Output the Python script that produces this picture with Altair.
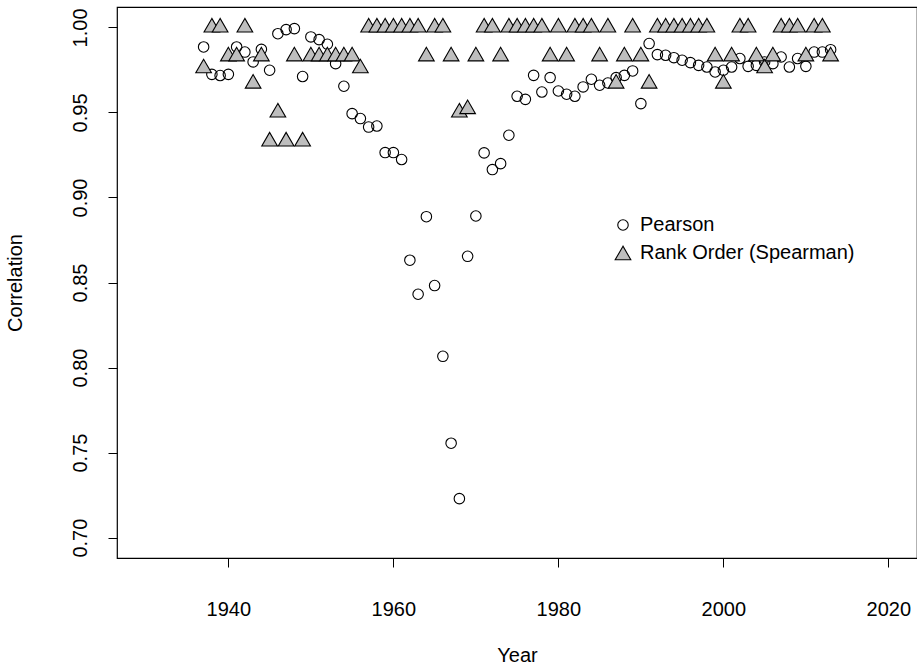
import altair as alt
import pandas as pd

years = list(range(1937, 2014))

pearson = [
    0.9885, 0.9724, 0.9717, 0.9724, 0.9885, 0.9855, 0.9797, 0.9871, 0.9748, 0.9963,
    0.9987, 0.9993, 0.9711, 0.9944, 0.9928, 0.9901, 0.9787, 0.9654, 0.9493, 0.9464,
    0.9414, 0.9420, 0.9264, 0.9264, 0.9223, 0.8631, 0.8431, 0.8887, 0.8482, 0.8066,
    0.7555, 0.7229, 0.8654, 0.8891, 0.9262, 0.9164, 0.9199, 0.9366, 0.9595, 0.9577,
    0.9718, 0.9620, 0.9705, 0.9626, 0.9607, 0.9595, 0.9650, 0.9695, 0.9660, 0.9673,
    0.9705, 0.9718, 0.9744, 0.9552, 0.9905, 0.9840, 0.9836, 0.9822, 0.9807, 0.9793,
    0.9777, 0.9767, 0.9738, 0.9748, 0.9767, 0.9817, 0.9771, 0.9777, 0.9797, 0.9787,
    0.9826, 0.9767, 0.9817, 0.9771, 0.9855, 0.9855, 0.9869,
]

spearman = [
    0.976, 1.0, 1.0, 0.983, 0.983, 1.0, 0.967, 0.983, 0.933, 0.950,
    0.933, 0.983, 0.933, 0.983, 0.983, 0.983, 0.983, 0.983, 0.983, 0.976,
    1.0, 1.0, 1.0, 1.0, 1.0, 1.0, 1.0, 0.983, 1.0, 1.0,
    0.983, 0.950, 0.952, 0.983, 1.0, 1.0, 0.983, 1.0, 1.0, 1.0,
    1.0, 1.0, 0.983, 1.0, 0.983, 1.0, 1.0, 1.0, 0.983, 1.0,
    0.967, 0.983, 1.0, 0.983, 0.967, 1.0, 1.0, 1.0, 1.0, 1.0,
    1.0, 1.0, 0.983, 0.967, 0.983, 1.0, 1.0, 0.983, 0.976, 0.983,
    1.0, 1.0, 1.0, 0.983, 1.0, 1.0, 0.983,
]

series_names = ["Pearson", "Rank Order (Spearman)"]
x_ticks = [1940, 1960, 1980, 2000, 2020]
y_ticks = [0.70, 0.75, 0.80, 0.85, 0.90, 0.95, 1.00]

df_p = pd.DataFrame({"Year": years, "Correlation": pearson, "series": series_names[0]})
df_s = pd.DataFrame({"Year": years, "Correlation": spearman, "series": series_names[1]})

FONT = "Liberation Sans"
FS = 20

x_enc = alt.X("Year:Q",
              scale=alt.Scale(domain=[1926.5, 2023.47], nice=False, zero=False),
              axis=alt.Axis(values=x_ticks, format="d", title="Year",
                            titlePadding=26, labelPadding=32))
y_enc = alt.Y("Correlation:Q",
              scale=alt.Scale(domain=[0.688, 1.012], nice=False, zero=False),
              axis=alt.Axis(values=y_ticks, format=".2f", title="Correlation",
                            labelAngle=270, labelAlign="center",
                            labelBaseline="alphabetic", labelPadding=22,
                            titlePadding=45))

leg = alt.Legend(title=None, orient="none", legendX=496, legendY=208,
                 symbolStrokeWidth=1.1,
                 labelLimit=400, labelOffset=7, rowPadding=8, padding=0)

shape_enc = alt.Shape("series:N", scale=alt.Scale(domain=series_names,
                      range=["circle", "triangle-up"]), legend=leg)
fill_enc = alt.Fill("series:N", scale=alt.Scale(domain=series_names,
                    range=["transparent", "#BEBEBE"]), legend=leg)
stroke_enc = alt.Stroke("series:N", scale=alt.Scale(domain=series_names,
                        range=["black", "black"]), legend=leg)
size_enc = alt.Size("series:N", scale=alt.Scale(domain=series_names,
                    range=[110, 245]), legend=leg)

circles = alt.Chart(df_p).mark_point(filled=True, strokeWidth=1.1,
                                      opacity=1).encode(
    x=x_enc, y=y_enc, shape=shape_enc, fill=fill_enc, stroke=stroke_enc,
    size=size_enc)

triangles = alt.Chart(df_s).mark_point(filled=True, strokeWidth=1.1,
                                        opacity=1, yOffset=-2.2).encode(
    x=x_enc, y=y_enc, shape=shape_enc, fill=fill_enc, stroke=stroke_enc,
    size=size_enc)

chart = alt.layer(circles, triangles).properties(
    width=800, height=551,
    autosize=alt.AutoSizeParams(type="none"),
    padding={"left": 117, "top": 7, "right": 0, "bottom": 110},
    background="white",
).configure_view(
    stroke="black", strokeWidth=1.2,
).configure_axis(
    domain=False, grid=False, ticks=True, tickColor="black", tickSize=9,
    tickWidth=1, labelFont=FONT, labelFontSize=FS, labelColor="black",
    titleFont=FONT, titleFontSize=FS, titleFontWeight="normal", titleColor="black",
).configure_legend(
    labelFont=FONT, labelFontSize=FS, labelColor="black",
)

chart.save("out.html", embed_options={"renderer": "svg", "actions": False})
